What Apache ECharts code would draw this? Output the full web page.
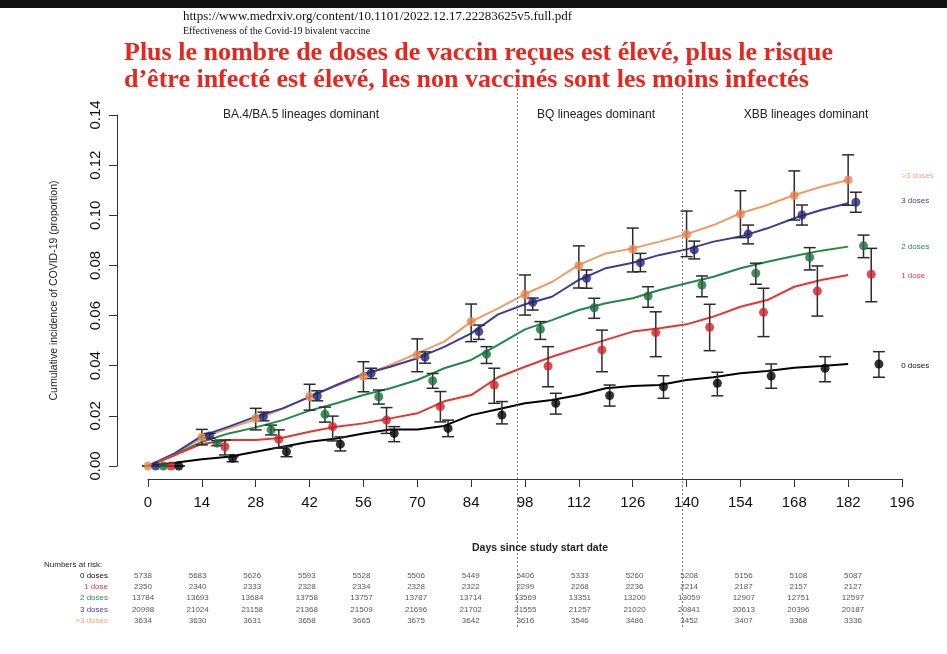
<!DOCTYPE html>
<html><head><meta charset="utf-8">
<script src="https://cdn.jsdelivr.net/npm/echarts@6/dist/echarts.min.js"></script>
<style>html,body{margin:0;padding:0;background:#fff}#c{width:947px;height:654px}</style>
</head><body><div id="c"></div>
<script>
// ---------- DATA ----------
const groups = ['>3 doses', '3 doses', '2 doses', '1 dose', '0 doses'];
const xTicks = [0, 14, 28, 42, 56, 70, 84, 98, 112, 126, 140, 154, 168, 182, 196];
const periodBreakDays = [96, 139];
const periodLabels = ['BA.4/BA.5 lineages dominant', 'BQ lineages dominant', 'XBB lineages dominant'];

// cumulative incidence curves (read every 7 days)
const curveDays = [0,7,14,21,28,35,42,49,56,63,70,77,84,91,98,105,112,119,126,133,140,147,154,161,168,175,182];
const curveGt3 = [0,0.0045,0.0113,0.015,0.0186,0.0228,0.0276,0.032,0.0362,0.0403,0.0449,0.0496,0.0576,0.0629,0.0686,0.0734,0.0802,0.0848,0.0868,0.0895,0.0925,0.0961,0.1008,0.1041,0.1081,0.1114,0.1141];
const curve3 = [0,0.0051,0.012,0.0157,0.0197,0.023,0.0276,0.0323,0.0367,0.0396,0.043,0.0475,0.0529,0.0605,0.0645,0.0675,0.0742,0.0789,0.0811,0.0842,0.0864,0.0895,0.0915,0.0948,0.0988,0.1021,0.1048];
const curve2 = [0,0.0044,0.0097,0.013,0.0154,0.0183,0.0221,0.025,0.0283,0.031,0.0343,0.039,0.0423,0.0483,0.0545,0.0582,0.0622,0.0649,0.0669,0.0702,0.0729,0.0755,0.0789,0.0815,0.0838,0.0859,0.0875];
const curve1 = [0,0.0044,0.0088,0.0104,0.0104,0.0113,0.0137,0.0157,0.017,0.019,0.021,0.0258,0.0283,0.0354,0.0396,0.0436,0.047,0.0503,0.0536,0.0549,0.0565,0.0596,0.0635,0.0662,0.0715,0.0742,0.0762];
const curve0 = [0,0.0013,0.0027,0.0037,0.0057,0.0077,0.0097,0.011,0.013,0.0146,0.0146,0.016,0.0203,0.0226,0.025,0.0263,0.0283,0.031,0.0319,0.0323,0.0343,0.0354,0.037,0.0379,0.0392,0.0399,0.0407];

// point estimates with confidence intervals
const ptDaysGt3 = [0,14,28,42,56,70,84,98,112,126,140,154,168,182];
const ptGt3 = [0,0.0115,0.019,0.0277,0.0358,0.0443,0.0576,0.0684,0.0799,0.0865,0.0924,0.1005,0.1079,0.1141];
const loGt3 = [0,0.0084,0.0144,0.0223,0.0296,0.0376,0.0496,0.0602,0.071,0.0774,0.0835,0.0911,0.0981,0.104];
const hiGt3 = [0,0.0146,0.023,0.0326,0.0416,0.0507,0.0646,0.0762,0.0878,0.0949,0.1017,0.1098,0.1177,0.1241];

const ptDays3 = [2,16,30,44,58,72,86,100,114,128,142,156,170,184];
const pt3 = [0,0.012,0.0197,0.0279,0.037,0.0434,0.0536,0.0653,0.0749,0.0811,0.0862,0.0925,0.1001,0.1052];
const lo3 = [0,0.011,0.018,0.026,0.0349,0.041,0.0505,0.0622,0.0709,0.0775,0.0826,0.0886,0.0961,0.1012];
const hi3 = [0,0.013,0.0215,0.030,0.039,0.0455,0.0562,0.067,0.0782,0.0848,0.0897,0.0961,0.1041,0.1092];

const ptDays2 = [4,18,32,46,60,74,88,102,116,130,144,158,172,186];
const pt2 = [0,0.0091,0.0144,0.0206,0.0276,0.034,0.0446,0.0545,0.0631,0.0678,0.0722,0.0769,0.0832,0.0878];
const lo2 = [0,0.0081,0.0124,0.0175,0.0247,0.031,0.0409,0.0505,0.0589,0.0633,0.0675,0.0725,0.0782,0.0831];
const hi2 = [0,0.0101,0.0163,0.0235,0.0303,0.0369,0.0476,0.0576,0.0669,0.0715,0.0758,0.0809,0.0871,0.0921];

const ptDays1 = [6,20,34,48,62,76,90,104,118,132,146,160,174,188];
const pt1 = [0,0.0077,0.0106,0.0157,0.0183,0.0237,0.0323,0.0399,0.0463,0.0532,0.0553,0.0613,0.0698,0.0765];
const lo1 = [0,0.0044,0.0071,0.010,0.013,0.0176,0.025,0.0316,0.0376,0.0436,0.046,0.0516,0.0598,0.0655];
const hi1 = [0,0.0104,0.0144,0.0199,0.0233,0.0297,0.039,0.0476,0.0542,0.0615,0.0645,0.0709,0.0798,0.0868];

const ptDays0 = [8,22,36,50,64,78,92,106,120,134,148,162,176,190];
const pt0 = [0,0.0031,0.0057,0.0087,0.013,0.015,0.0203,0.025,0.0281,0.0316,0.033,0.0359,0.039,0.0407];
const lo0 = [0,0.0017,0.0037,0.006,0.0097,0.0117,0.0168,0.0207,0.0239,0.027,0.028,0.031,0.0336,0.0354];
const hi0 = [0,0.0037,0.0077,0.0116,0.0157,0.0183,0.0257,0.029,0.0323,0.036,0.0374,0.0407,0.0436,0.0456];

// numbers at risk
const riskDays = [0,14,28,42,56,70,84,98,112,126,140,154,168,182];
const riskRows = ['0 doses', '1 dose', '2 doses', '3 doses', '>3 doses'];
const risk0 = [5738,5683,5626,5593,5528,5506,5449,5406,5333,5260,5208,5156,5108,5087];
const risk1 = [2350,2340,2333,2328,2334,2328,2322,2299,2268,2236,2214,2187,2157,2127];
const risk2 = [13784,13693,13684,13758,13757,13787,13714,13569,13351,13200,13059,12907,12751,12597];
const risk3 = [20998,21024,21158,21368,21509,21696,21702,21555,21257,21020,20841,20613,20396,20187];
const riskGt3 = [3634,3630,3631,3658,3665,3675,3642,3616,3546,3486,3452,3407,3368,3336];

// ---------- STYLE ----------
const lineColors = {'>3 doses':'#f39a62','3 doses':'#3c3c9e','2 doses':'#1f8a45','1 dose':'#e8352e','0 doses':'#000000'};
const dotColors  = {'>3 doses':'#e8874f','3 doses':'#262676','2 doses':'#1d6d3c','1 dose':'#cf2128','0 doses':'#000000'};
const labelColors= {'>3 doses':'#f5a77a','3 doses':'#3f3fa0','2 doses':'#2a8a4a','1 dose':'#e83a34','0 doses':'#111111'};
const endOffsets = {'>3 doses':[45,-4],'3 doses':[45,-2],'2 doses':[45,0],'1 dose':[45,1],'0 doses':[45,2]};

const curves = {'>3 doses':curveGt3,'3 doses':curve3,'2 doses':curve2,'1 dose':curve1,'0 doses':curve0};
const pts = {
  '>3 doses':[ptDaysGt3,ptGt3,loGt3,hiGt3],
  '3 doses':[ptDays3,pt3,lo3,hi3],
  '2 doses':[ptDays2,pt2,lo2,hi2],
  '1 dose':[ptDays1,pt1,lo1,hi1],
  '0 doses':[ptDays0,pt0,lo0,hi0]
};
const risks = {'0 doses':risk0,'1 dose':risk1,'2 doses':risk2,'3 doses':risk3,'>3 doses':riskGt3};

const SANS = 'Liberation Sans, Arial, sans-serif';
const SERIF = 'Liberation Serif, Times New Roman, serif';

const chart = echarts.init(document.getElementById('c'), null, {renderer:'canvas'});
const series = [];

groups.forEach(g => {
  series.push({
    type:'line', name:g, xAxisIndex:0, yAxisIndex:0,
    data: curveDays.map((d,i)=>[d, curves[g][i]]),
    showSymbol:false, symbol:'none', clip:false,
    lineStyle:{color:lineColors[g], width:2},
    z:3,
    endLabel:{show:true, formatter:g, color:labelColors[g], fontSize:8, fontFamily:SANS, offset:endOffsets[g]}
  });
});
groups.forEach(g => {
  const [dd, vv, lo, hi] = pts[g];
  series.push({
    type:'custom', name:g+' ci', xAxisIndex:0, yAxisIndex:0, clip:false, z:4,
    data: dd.map((d,i)=>[d, lo[i], hi[i]]),
    renderItem:function(params, api){
      const a = api.coord([api.value(0), api.value(1)]);
      const b = api.coord([api.value(0), api.value(2)]);
      const w = 6;
      const st = {stroke:'#2b2b2b', lineWidth:1.5};
      return {type:'group', children:[
        {type:'line', shape:{x1:a[0],y1:a[1],x2:b[0],y2:b[1]}, style:st},
        {type:'line', shape:{x1:a[0]-w,y1:a[1],x2:a[0]+w,y2:a[1]}, style:st},
        {type:'line', shape:{x1:b[0]-w,y1:b[1],x2:b[0]+w,y2:b[1]}, style:st}
      ]};
    }
  });
  series.push({
    type:'scatter', name:g+' pt', xAxisIndex:0, yAxisIndex:0, clip:false, z:5,
    data: dd.map((d,i)=>[d, vv[i]]),
    symbol:'circle', symbolSize:9,
    itemStyle:{color:dotColors[g]}
  });
});
// vertical dotted period separators
series.push({
  type:'line', xAxisIndex:1, yAxisIndex:1, data:[], silent:true,
  markLine:{symbol:'none', silent:true, label:{show:false},
    lineStyle:{color:'#7a7a7a', width:1, type:[2,2]},
    data: periodBreakDays.map(d=>({xAxis:d}))}
});
// numbers at risk table
riskRows.forEach(r => {
  series.push({
    type:'scatter', xAxisIndex:2, yAxisIndex:2, symbolSize:0, silent:true,
    data: riskDays.map((d,i)=>({value:[d, r], n:risks[r][i]})),
    label:{show:true, position:'inside', fontSize:8, fontFamily:SANS, color:'#2a2a2a',
      formatter:p=>String(p.data.n)}
  });
});

const option = {
  backgroundColor:'#ffffff',
  animation:false,
  graphic:[{type:'rect', shape:{x:0,y:0,width:947,height:8}, style:{fill:'#111111'}, silent:true}],
  title:[
    {text:'https://www.medrxiv.org/content/10.1101/2022.12.17.22283625v5.full.pdf', left:183, top:10, padding:0,
      textStyle:{fontFamily:SERIF, fontSize:13, fontWeight:'normal', color:'#111'}},
    {text:'Effectiveness of the Covid-19 bivalent vaccine', left:183, top:26, padding:0,
      textStyle:{fontFamily:SERIF, fontSize:10, fontWeight:'normal', color:'#111'}},
    {text:'Plus le nombre de doses de vaccin reçues est élevé, plus le risque\nd’être infecté est élevé, les non vaccinés sont les moins infectés', left:124, top:40, padding:0,
      textStyle:{fontFamily:SERIF, fontSize:26, fontWeight:'bold', color:'#e8261e', lineHeight:27}},
    {text:periodLabels[0], left:301, top:109, padding:0, textAlign:'center', textStyle:{fontFamily:SANS, fontSize:12, fontWeight:'normal', color:'#222'}},
    {text:periodLabels[1], left:596, top:109, padding:0, textAlign:'center', textStyle:{fontFamily:SANS, fontSize:12, fontWeight:'normal', color:'#222'}},
    {text:periodLabels[2], left:806, top:109, padding:0, textAlign:'center', textStyle:{fontFamily:SANS, fontSize:12, fontWeight:'normal', color:'#222'}},
    {text:'Days since study start date', left:540, top:543, padding:0, textAlign:'center', textStyle:{fontFamily:SANS, fontSize:10.5, fontWeight:'bold', color:'#222'}},
    {text:'Numbers at risk:', left:44, top:561, padding:0, textStyle:{fontFamily:SANS, fontSize:8, fontWeight:'normal', color:'#222'}}
  ],
  grid:[
    {left:148, right:45, top:115, bottom:188},
    {left:148, right:45, top:82, bottom:27},
    {left:143, right:39.4, top:570, height:56.5}
  ],
  xAxis:[
    {type:'value', gridIndex:0, min:0, max:196, interval:14, offset:13,
      axisLine:{show:true, onZero:false, lineStyle:{color:'#333', width:1}},
      axisTick:{show:true, length:8, lineStyle:{color:'#333'}},
      axisLabel:{fontFamily:SANS, fontSize:15, color:'#111', margin:16},
      splitLine:{show:false}},
    {type:'value', gridIndex:1, min:0, max:196, show:false},
    {type:'value', gridIndex:2, min:0, max:196, show:false}
  ],
  yAxis:[
    {type:'value', gridIndex:0, min:0, max:0.14, interval:0.02, offset:31,
      name:'Cumulative incidence of COVID-19 (proportion)', nameLocation:'middle', nameGap:57,
      nameTextStyle:{fontFamily:SANS, fontSize:10.5, color:'#222'},
      axisLine:{show:true, onZero:false, lineStyle:{color:'#333', width:1}},
      axisTick:{show:true, length:8, lineStyle:{color:'#333'}},
      axisLabel:{fontFamily:SANS, fontSize:15, color:'#111', rotate:90, margin:14,
        formatter:v=>v.toFixed(2)},
      splitLine:{show:false}},
    {type:'value', gridIndex:1, min:0, max:1, show:false},
    {type:'category', gridIndex:2, data:riskRows, inverse:true,
      axisLine:{show:false}, axisTick:{show:false}, splitLine:{show:false},
      axisLabel:{fontFamily:SANS, fontSize:8, margin:35, color:(v)=>labelColors[v]}}
  ],
  series:series
};
chart.setOption(option);
</script>
</body></html>
